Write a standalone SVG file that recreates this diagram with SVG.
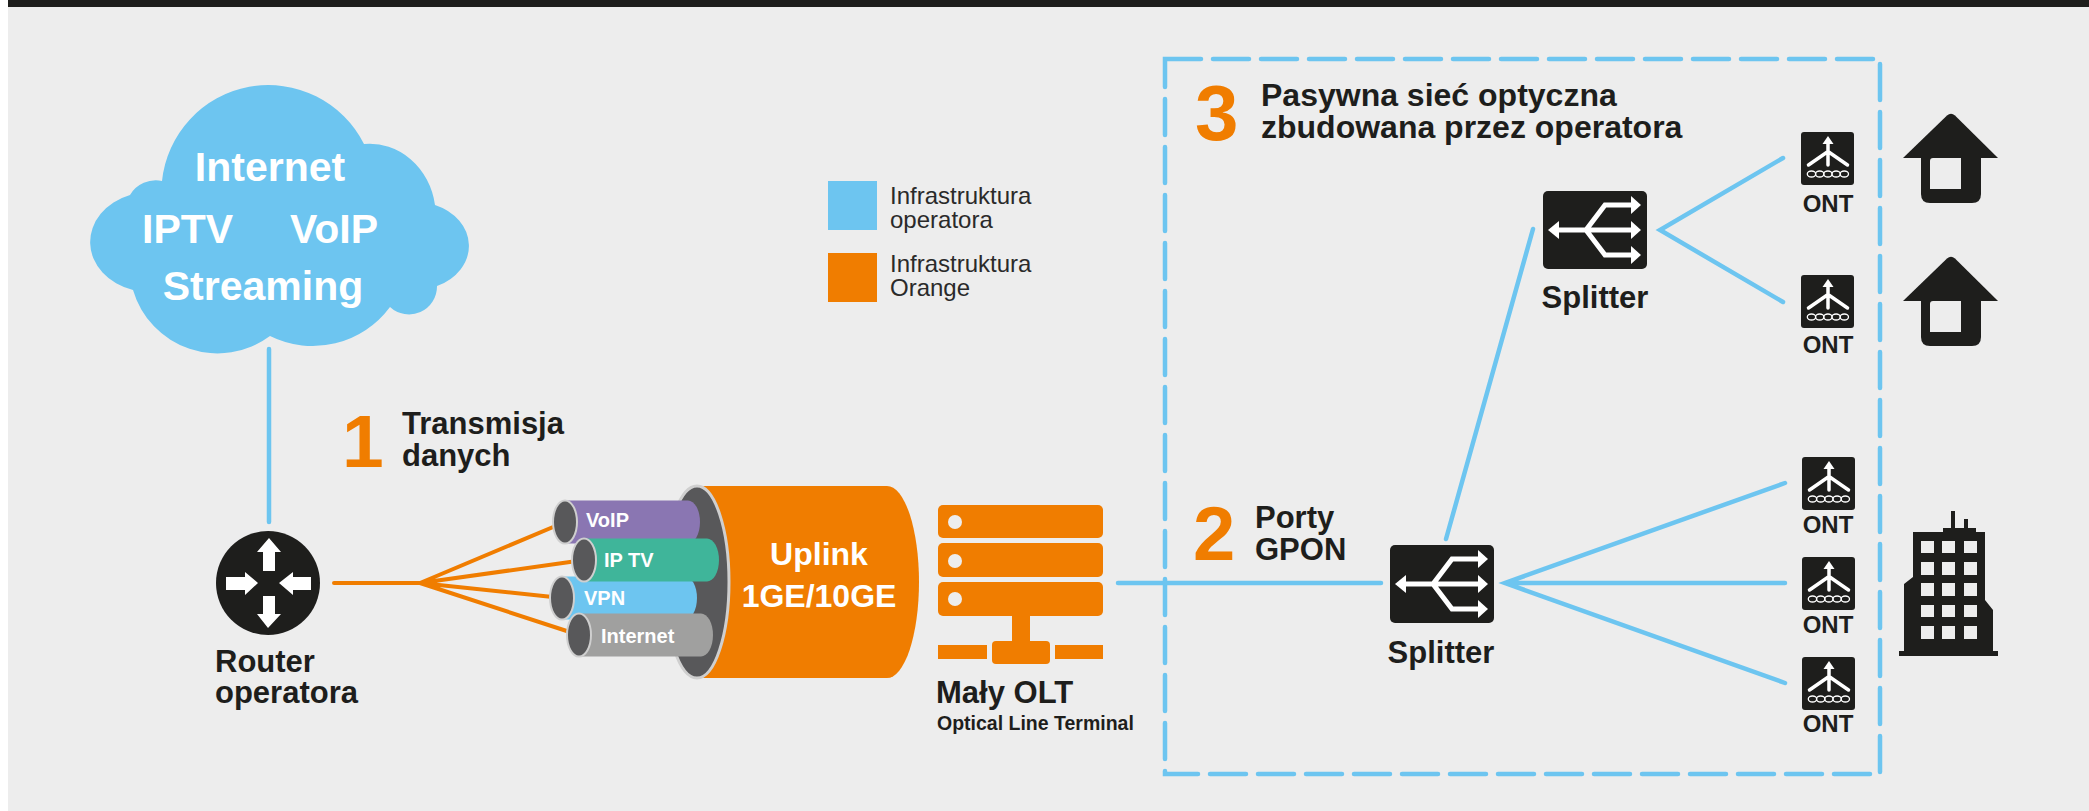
<svg xmlns="http://www.w3.org/2000/svg" width="2089" height="811" viewBox="0 0 2089 811">
  <style>
    .t { font-family: "Liberation Sans", Arial, sans-serif; font-weight: bold; fill: #1e1e1c; }
    .w { font-family: "Liberation Sans", Arial, sans-serif; font-weight: bold; fill: #ffffff; }
    .num { font-family: "Liberation Sans", Arial, sans-serif; font-weight: bold; fill: #f07d00; }
    .leg { font-family: "Liberation Sans", Arial, sans-serif; fill: #2a2a2a; font-size: 24px; }
    .blue { stroke: #6dc5f0; stroke-width: 4.5; fill: none; stroke-linecap: round; }
    .orange { stroke: #f07d00; stroke-width: 4; fill: none; stroke-linecap: round; stroke-linejoin: round; }
    .dark { fill: #1e1e1c; }
    .hole { fill: #ededed; }
    .tube-end { fill: #58585a; stroke: #cfcfcf; stroke-width: 2; }
  </style>
  <defs>
    <!-- splitter pictogram, 104 x 78 -->
    <g id="splitter-icon">
      <rect x="0" y="0" width="104" height="78" rx="5" class="dark"/>
      <path d="M 14 39 H 91 M 43 39 L 62 14 H 91 M 43 39 L 62 64 H 91" stroke="#ffffff" stroke-width="5" fill="none" stroke-linejoin="miter"/>
      <polygon points="5,39 16,30 16,48" fill="#ffffff"/>
      <polygon points="98,14 88,5 88,23" fill="#ffffff"/>
      <polygon points="98,39 88,30 88,48" fill="#ffffff"/>
      <polygon points="98,64 88,55 88,73" fill="#ffffff"/>
    </g>
    <!-- optical network terminal pictogram, 53 x 53 -->
    <g id="ont-icon">
      <rect x="0" y="0" width="53" height="53" rx="3" class="dark"/>
      <polygon points="27,4 21.5,12 32.5,12" fill="#ffffff"/>
      <path d="M 27 11 V 33 M 7.5 33 L 27 19.5 L 46.5 33" stroke="#ffffff" stroke-width="3.5" fill="none" stroke-linecap="round" stroke-linejoin="round"/>
      <g fill="none" stroke="#ffffff" stroke-width="1.3">
        <ellipse cx="10.5" cy="42" rx="4.2" ry="3"/>
        <ellipse cx="18.7" cy="42" rx="4.2" ry="3"/>
        <ellipse cx="26.9" cy="42" rx="4.2" ry="3"/>
        <ellipse cx="35.1" cy="42" rx="4.2" ry="3"/>
        <ellipse cx="43.3" cy="42" rx="4.2" ry="3"/>
      </g>
    </g>
    <!-- house pictogram, origin at roof apex -->
    <g id="house-icon">
      <path d="M -48 44 L -4 1.5 Q 0 -2 4 1.5 L 47 44 Z" class="dark"/>
      <path d="M -30 43 H 30 V 80 Q 30 89 21 89 H -21 Q -30 89 -30 80 Z" class="dark"/>
      <path d="M -18 44 H 10 V 75 H -21 V 47 Q -21 44 -18 44 Z" class="hole"/>
    </g>
  </defs>

  <!-- page -->
  <rect x="0" y="0" width="2089" height="811" fill="#ededed"/>
  <rect x="0" y="0" width="8" height="811" fill="#ffffff"/>
  <rect x="8" y="0" width="2081" height="7" fill="#1e1e1c"/>

  <!-- access network area -->
  <rect id="pon-area" x="1165" y="59" width="715" height="715" fill="none" stroke="#6dc5f0" stroke-width="4.5" stroke-dasharray="36 12" stroke-linecap="round"/>

  <!-- connectors -->
  <g id="connectors">
    <line class="blue" x1="269" y1="349" x2="269" y2="522"/>
    <path class="orange" d="M 334 583 H 420 L 565 522 M 420 583 L 584 560 M 420 583 L 562 598 M 420 583 L 579 635"/>
    <line class="blue" x1="1118" y1="583" x2="1381" y2="583"/>
    <line class="blue" x1="1446" y1="539" x2="1533" y2="229"/>
    <path class="blue" d="M 1783 158 L 1660 230 L 1783 302"/>
    <path class="blue" d="M 1785 483 L 1505 583 L 1785 683 M 1505 583 H 1785"/>
  </g>

  <!-- services cloud -->
  <g id="cloud">
    <path d="M 130 195 A 30 30 0 0 1 162 181 A 107 107 0 0 1 364 144 A 66 72 0 0 1 435 205 A 54 44 0 0 1 437 286 A 28 28 0 0 1 390 307 A 96 96 0 0 1 270 336 A 88 88 0 0 1 133 290 A 60 50 0 0 1 130 195 Z" fill="#6dc5f0"/>
    <text class="w" x="270" y="181" font-size="41" text-anchor="middle">Internet</text>
    <text class="w" x="142" y="243" font-size="41">IPTV</text>
    <text class="w" x="290" y="243" font-size="41">VoIP</text>
    <text class="w" x="263" y="300" font-size="41" text-anchor="middle">Streaming</text>
  </g>

  <!-- operator router -->
  <g id="router">
    <circle cx="268" cy="583" r="52" class="dark"/>
    <g fill="#ffffff">
      <polygon points="269,538 257,552 263,552 263,571 275,571 275,552 281,552"/>
      <polygon points="268,628 257,614 263,614 263,596 275,596 275,614 281,614"/>
      <polygon points="258,583 245,572 245,577 226,577 226,590 245,590 245,595"/>
      <polygon points="279,583 293,572 293,577 311,577 311,590 293,590 293,595"/>
    </g>
    <text class="t" x="215" y="672" font-size="31">Router</text>
    <text class="t" x="215" y="703" font-size="31">operatora</text>
  </g>

  <!-- step 1 -->
  <g id="step-1">
    <text class="num" x="342" y="467" font-size="75">1</text>
    <text class="t" x="402" y="434" font-size="31">Transmisja</text>
    <text class="t" x="402" y="466" font-size="31">danych</text>
  </g>

  <!-- uplink cable with service tubes -->
  <g id="uplink">
    <path d="M 697 486 H 887 A 32 96 0 0 1 887 678 H 697 Z" fill="#f07d00"/>
    <ellipse cx="697" cy="582" rx="32" ry="96" fill="#58585a" stroke="#cfcfcf" stroke-width="3"/>
    <text class="w" x="819" y="565" font-size="32" text-anchor="middle">Uplink</text>
    <text class="w" x="819" y="607" font-size="32" text-anchor="middle">1GE/10GE</text>
  </g>
  <g id="tube-voip">
    <path d="M 565 500.5 H 688 A 12 21.5 0 0 1 688 543.5 H 565 Z" fill="#8a76b2"/>
    <ellipse class="tube-end" cx="565" cy="522" rx="12" ry="21.5"/>
    <text class="w" x="586" y="527" font-size="20">VoIP</text>
  </g>
  <g id="tube-vpn">
    <path d="M 562 576.5 H 685 A 12 21.5 0 0 1 685 619.5 H 562 Z" fill="#6dc5f0"/>
    <ellipse class="tube-end" cx="562" cy="598" rx="12" ry="21.5"/>
    <text class="w" x="584" y="605" font-size="20">VPN</text>
  </g>
  <g id="tube-iptv">
    <path d="M 584 538.5 H 707 A 12 21.5 0 0 1 707 581.5 H 584 Z" fill="#3fb59a"/>
    <ellipse class="tube-end" cx="584" cy="560" rx="12" ry="21.5"/>
    <text class="w" x="604" y="567" font-size="20">IP TV</text>
  </g>
  <g id="tube-internet">
    <path d="M 579 613.5 H 701 A 12 21.5 0 0 1 701 656.5 H 579 Z" fill="#a0a09f"/>
    <ellipse class="tube-end" cx="579" cy="635" rx="12" ry="21.5"/>
    <text class="w" x="601" y="643" font-size="20">Internet</text>
  </g>

  <!-- legend -->
  <g id="legend">
    <rect x="828" y="181" width="49" height="49" fill="#6dc5f0"/>
    <text class="leg" x="890" y="204">Infrastruktura</text>
    <text class="leg" x="890" y="228">operatora</text>
    <rect x="828" y="253" width="49" height="49" fill="#f07d00"/>
    <text class="leg" x="890" y="272">Infrastruktura</text>
    <text class="leg" x="890" y="296">Orange</text>
  </g>

  <!-- OLT -->
  <g id="olt" fill="#f07d00">
    <rect x="938" y="505" width="165" height="33" rx="5"/>
    <rect x="938" y="543" width="165" height="34" rx="5"/>
    <rect x="938" y="582" width="165" height="34" rx="5"/>
    <circle cx="955" cy="522" r="7" class="hole"/>
    <circle cx="955" cy="561" r="7" class="hole"/>
    <circle cx="955" cy="599" r="7" class="hole"/>
    <rect x="1012" y="614" width="18" height="30"/>
    <rect x="992" y="641" width="58" height="23" rx="4"/>
    <rect x="938" y="645" width="49" height="14"/>
    <rect x="1055" y="645" width="48" height="14"/>
    <text class="t" x="936" y="703" font-size="31">Mały OLT</text>
    <text class="t" x="937" y="730" font-size="19.5">Optical Line Terminal</text>
  </g>

  <!-- step 2 -->
  <g id="step-2">
    <text class="num" x="1193" y="560" font-size="76">2</text>
    <text class="t" x="1255" y="528" font-size="31">Porty</text>
    <text class="t" x="1255" y="560" font-size="31">GPON</text>
  </g>

  <!-- step 3 -->
  <g id="step-3">
    <text class="num" x="1195" y="140" font-size="78">3</text>
    <text class="t" x="1261" y="106" font-size="32">Pasywna sieć optyczna</text>
    <text class="t" x="1261" y="138" font-size="32">zbudowana przez operatora</text>
  </g>

  <!-- splitters -->
  <g id="splitter-top">
    <use href="#splitter-icon" x="1543" y="191"/>
    <text class="t" x="1595" y="308" font-size="31" text-anchor="middle">Splitter</text>
  </g>
  <g id="splitter-bottom">
    <use href="#splitter-icon" x="1390" y="545"/>
    <text class="t" x="1441" y="663" font-size="31" text-anchor="middle">Splitter</text>
  </g>

  <!-- ONT terminals -->
  <g id="ont-1">
    <use href="#ont-icon" x="1801" y="132"/>
    <text class="t" x="1828" y="212" font-size="24" text-anchor="middle">ONT</text>
  </g>
  <g id="ont-2">
    <use href="#ont-icon" x="1801" y="275"/>
    <text class="t" x="1828" y="353" font-size="24" text-anchor="middle">ONT</text>
  </g>
  <g id="ont-3">
    <use href="#ont-icon" x="1802" y="457"/>
    <text class="t" x="1828" y="533" font-size="24" text-anchor="middle">ONT</text>
  </g>
  <g id="ont-4">
    <use href="#ont-icon" x="1802" y="557"/>
    <text class="t" x="1828" y="633" font-size="24" text-anchor="middle">ONT</text>
  </g>
  <g id="ont-5">
    <use href="#ont-icon" x="1802" y="657"/>
    <text class="t" x="1828" y="732" font-size="24" text-anchor="middle">ONT</text>
  </g>

  <!-- homes -->
  <g id="house-1">
    <use href="#house-icon" x="1951" y="114"/>
  </g>
  <g id="house-2">
    <use href="#house-icon" x="1951" y="257"/>
  </g>

  <!-- apartment building -->
  <g id="building">
    <rect x="1951" y="511" width="4" height="19" class="dark"/>
    <rect x="1964" y="519" width="4" height="11" class="dark"/>
    <rect x="1943" y="528" width="33" height="6" class="dark"/>
    <path d="M 1913 532 H 1985 V 600 L 1993 610 V 653 H 1904 V 584 L 1913 577 Z" class="dark"/>
    <rect x="1899" y="651" width="99" height="5" class="dark"/>
    <g class="hole">
      <rect x="1921" y="541" width="13" height="12"/><rect x="1942" y="541" width="13" height="12"/><rect x="1964" y="541" width="13" height="12"/>
      <rect x="1921" y="562" width="13" height="13"/><rect x="1942" y="562" width="13" height="13"/><rect x="1964" y="562" width="13" height="13"/>
      <rect x="1921" y="583" width="13" height="13"/><rect x="1942" y="583" width="13" height="13"/><rect x="1964" y="583" width="13" height="13"/>
      <rect x="1921" y="605" width="13" height="12"/><rect x="1942" y="605" width="13" height="12"/><rect x="1964" y="605" width="13" height="12"/>
      <rect x="1921" y="626" width="13" height="13"/><rect x="1942" y="626" width="13" height="13"/><rect x="1964" y="626" width="13" height="13"/>
    </g>
  </g>
</svg>
